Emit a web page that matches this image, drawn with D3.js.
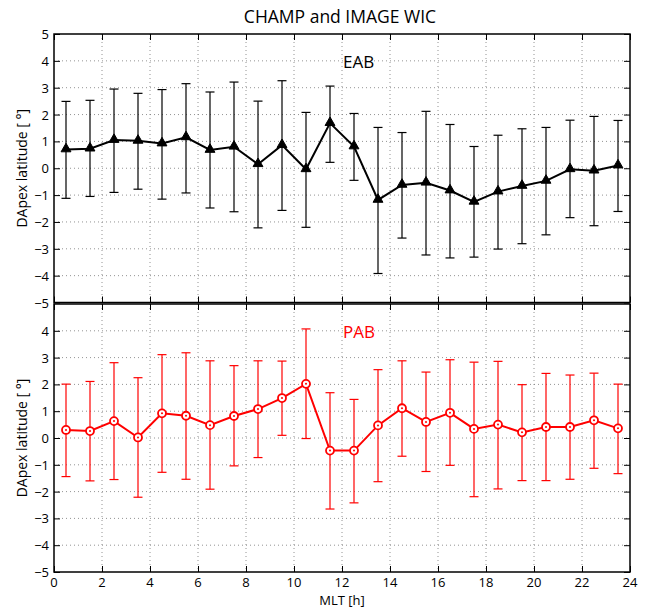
<!DOCTYPE html>
<html>
<head>
<meta charset="utf-8">
<script src="https://cdn.jsdelivr.net/npm/d3@7"></script>
<style>
	body { margin: 0; background: #fff; }
	text { font-family: "Open Sans", "DejaVu Sans", sans-serif; }
	.tick-label { font-size: 13px; }
</style>
</head>
<body>
<svg id="plot" width="649" height="608"></svg>
<script>

// MLT bin centres [h]
const mlt = [0.5, 1.5, 2.5, 3.5, 4.5, 5.5, 6.5, 7.5, 8.5, 9.5, 10.5, 11.5,
	12.5, 13.5, 14.5, 15.5, 16.5, 17.5, 18.5, 19.5, 20.5, 21.5, 22.5, 23.5];

// EAB mean and error bar ends
const eab_mean = [0.70, 0.73, 1.05, 1.02, 0.92, 1.15, 0.68, 0.80, 0.15, 0.86, -0.04, 1.68,
	0.81, -1.18, -0.62, -0.54, -0.83, -1.25, -0.87, -0.66, -0.47, -0.04, -0.09, 0.10];
const eab_upper = [2.49, 2.53, 2.95, 2.79, 2.93, 3.15, 2.84, 3.21, 2.50, 3.26, 2.08, 3.06,
	2.04, 1.52, 1.33, 2.12, 1.63, 0.81, 1.23, 1.47, 1.52, 1.79, 1.93, 1.78];
const eab_lower = [-1.12, -1.05, -0.90, -0.78, -1.15, -0.92, -1.48, -1.62, -2.22, -1.57, -2.20, 0.22,
	-0.45, -3.92, -2.60, -3.23, -3.34, -3.31, -3.01, -2.81, -2.48, -1.84, -2.14, -1.61];

// PAB mean and error bar ends
const pab_mean = [0.30, 0.26, 0.63, 0.02, 0.92, 0.83, 0.48, 0.82, 1.08, 1.49, 2.02, -0.47,
	-0.47, 0.47, 1.11, 0.60, 0.94, 0.34, 0.50, 0.21, 0.41, 0.41, 0.66, 0.36];
const pab_upper = [2.01, 2.11, 2.81, 2.25, 3.11, 3.18, 2.88, 2.70, 2.88, 2.87, 4.07, 1.69,
	1.44, 2.55, 2.88, 2.46, 2.92, 2.83, 2.86, 1.99, 2.41, 2.35, 2.42, 2.01];
const pab_lower = [-1.44, -1.60, -1.55, -2.21, -1.28, -1.54, -1.91, -1.04, -0.73, 0.10, -0.02, -2.65,
	-2.42, -1.63, -0.68, -1.25, -1.02, -2.19, -1.90, -1.59, -1.59, -1.54, -1.13, -1.33];

const x_ticks = [0, 2, 4, 6, 8, 10, 12, 14, 16, 18, 20, 22, 24];
const y_ticks_top = [-5, -4, -3, -2, -1, 0, 1, 2, 3, 4, 5];
const y_ticks_bottom = [-5, -4, -3, -2, -1, 0, 1, 2, 3, 4];

const svg = d3.select("#plot");
const left = 54, right = 630;

const x = d3.scaleLinear().domain([0, 24]).range([left, right]);

function drawPanel(top, bottom, mean, upper, lower, color, marker, label, yTicks, showX) {
	const y = d3.scaleLinear().domain([-5, 5]).range([bottom, top]);
	const g = svg.append("g");

	// dotted grid
	g.selectAll(".gx").data(x_ticks.slice(1, -1)).enter().append("line")
		.attr("x1", d => x(d)).attr("x2", d => x(d))
		.attr("y1", top).attr("y2", bottom)
		.style("stroke", "#777").style("stroke-width", 0.8).style("stroke-dasharray", "1,3");
	g.selectAll(".gy").data(y_ticks_top.slice(1, -1)).enter().append("line")
		.attr("x1", left).attr("x2", right)
		.attr("y1", d => y(d)).attr("y2", d => y(d))
		.style("stroke", "#777").style("stroke-width", 0.8).style("stroke-dasharray", "1,3");

	// inward tick marks on all four sides
	const tl = 6;
	g.append("g").attr("transform", "translate(" + left + ",0)")
		.call(d3.axisRight(y).tickValues(yTicks).tickSize(tl).tickFormat(""))
		.call(a => a.select(".domain").remove());
	g.append("g").attr("transform", "translate(" + right + ",0)")
		.call(d3.axisLeft(y).tickValues(yTicks).tickSize(tl).tickFormat(""))
		.call(a => a.select(".domain").remove());
	g.append("g").attr("transform", "translate(0," + bottom + ")")
		.call(d3.axisTop(x).tickValues(x_ticks).tickSize(tl).tickFormat(""))
		.call(a => a.select(".domain").remove());
	g.append("g").attr("transform", "translate(0," + top + ")")
		.call(d3.axisBottom(x).tickValues(x_ticks).tickSize(tl).tickFormat(""))
		.call(a => a.select(".domain").remove());

	// y tick labels
	g.selectAll(".yl").data(yTicks).enter().append("text")
		.attr("class", "tick-label")
		.attr("x", left - 5).attr("y", d => y(d) + 5)
		.attr("text-anchor", "end")
		.text(d => d < 0 ? "\u2212" + Math.abs(d) : d);

	if (showX) {
		g.selectAll(".xl").data(x_ticks).enter().append("text")
			.attr("class", "tick-label")
			.attr("x", d => x(d)).attr("y", bottom + 15)
			.attr("text-anchor", "middle")
			.text(d => d);
	}

	// frame
	g.append("rect")
		.attr("x", left).attr("y", top)
		.attr("width", right - left).attr("height", bottom - top)
		.style("fill", "none").style("stroke", "#000").style("stroke-width", 1.5);

	// error bars
	const cap = 4.5;
	const eb = g.selectAll(".eb").data(mlt).enter().append("g");
	eb.append("line")
		.attr("x1", d => x(d)).attr("x2", d => x(d))
		.attr("y1", (d, i) => y(upper[i])).attr("y2", (d, i) => y(lower[i]))
		.style("stroke", color).style("stroke-width", 1.2);
	eb.append("line")
		.attr("x1", d => x(d) - cap).attr("x2", d => x(d) + cap)
		.attr("y1", (d, i) => y(upper[i])).attr("y2", (d, i) => y(upper[i]))
		.style("stroke", color).style("stroke-width", 1.2);
	eb.append("line")
		.attr("x1", d => x(d) - cap).attr("x2", d => x(d) + cap)
		.attr("y1", (d, i) => y(lower[i])).attr("y2", (d, i) => y(lower[i]))
		.style("stroke", color).style("stroke-width", 1.2);

	// mean line
	const line = d3.line().x(d => x(d[0])).y(d => y(d[1]));
	g.append("path")
		.datum(mlt.map((d, i) => [d, mean[i]]))
		.attr("d", line)
		.style("fill", "none").style("stroke", color).style("stroke-width", 2);

	// markers
	if (marker === "triangle") {
		const tri = d3.symbol().type(d3.symbolTriangle).size(42);
		g.selectAll(".mk").data(mlt).enter().append("path")
			.attr("d", tri)
			.attr("transform", (d, i) => "translate(" + x(d) + "," + (y(mean[i]) - 0.5) + ")")
			.style("fill", color).style("stroke", color).style("stroke-width", 1);
	} else {
		g.selectAll(".mk").data(mlt).enter().append("circle")
			.attr("cx", d => x(d)).attr("cy", (d, i) => y(mean[i]))
			.attr("r", 4)
			.style("fill", "#fff").style("stroke", color).style("stroke-width", 1.8);
		g.selectAll(".mkd").data(mlt).enter().append("circle")
			.attr("cx", d => x(d)).attr("cy", (d, i) => y(mean[i]))
			.attr("r", 1)
			.style("fill", color);
	}

	// panel label
	g.append("text")
		.attr("x", x(12) + 1).attr("y", y(4) + 7)
		.style("font-size", "17px")
		.style("fill", color)
		.text(label);

	// y axis label
	svg.append("text")
		.attr("transform", "translate(27," + ((top + bottom) / 2) + ") rotate(-90)")
		.attr("text-anchor", "middle")
		.style("font-size", "14px")
		.text("DApex latitude [ \u00b0]");
}

drawPanel(34, 302.5, eab_mean, eab_upper, eab_lower, "#000", "triangle", "EAB", y_ticks_top, false);
drawPanel(304, 572, pab_mean, pab_upper, pab_lower, "#ff0000", "circle", "PAB", y_ticks_bottom, true);

// title and x label
svg.append("text")
	.attr("x", 340).attr("y", 23)
	.attr("text-anchor", "middle")
	.style("font-size", "17.5px")
	.text("CHAMP and IMAGE WIC");

svg.append("text")
	.attr("x", 342).attr("y", 605)
	.attr("text-anchor", "middle")
	.style("font-size", "13px")
	.text("MLT [h]");

</script>
</body>
</html>
